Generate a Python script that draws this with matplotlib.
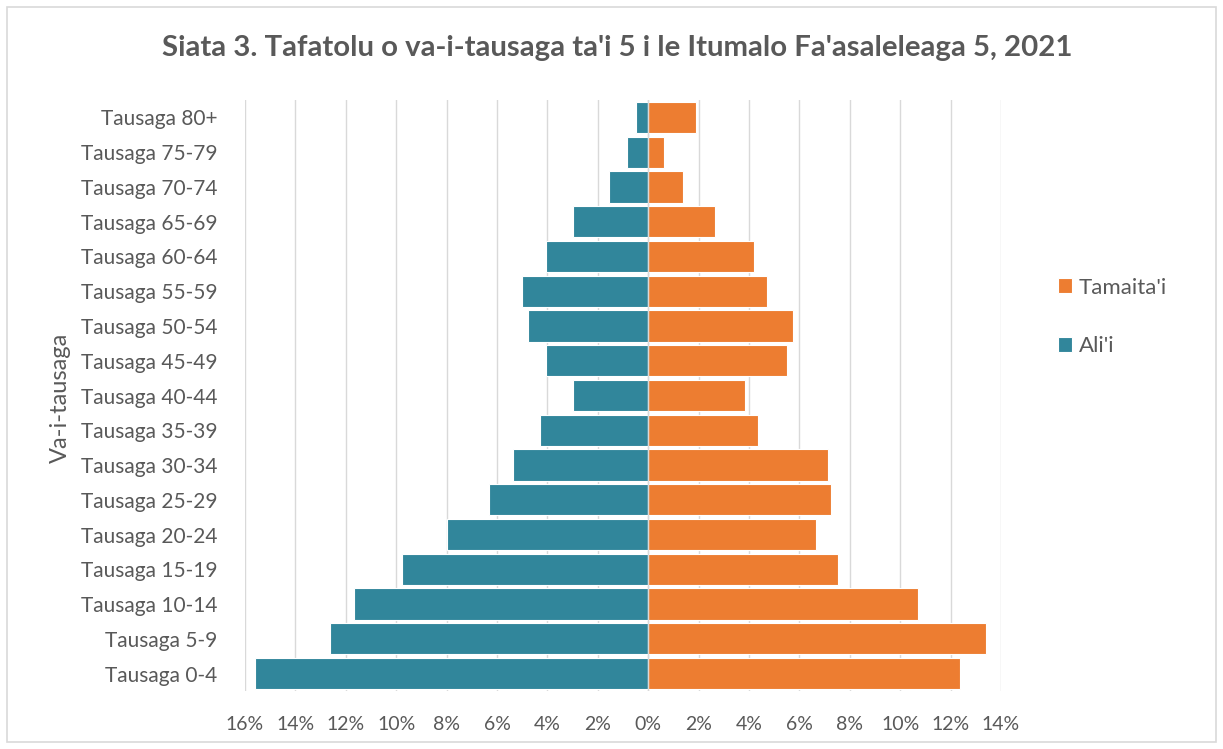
import matplotlib
matplotlib.use("Agg")
import matplotlib.pyplot as plt
import numpy as np
from matplotlib.patches import Rectangle

categories = ["Tausaga 0-4", "Tausaga 5-9", "Tausaga 10-14", "Tausaga 15-19",
              "Tausaga 20-24", "Tausaga 25-29", "Tausaga 30-34", "Tausaga 35-39",
              "Tausaga 40-44", "Tausaga 45-49", "Tausaga 50-54", "Tausaga 55-59",
              "Tausaga 60-64", "Tausaga 65-69", "Tausaga 70-74", "Tausaga 75-79",
              "Tausaga 80+"]
male = [15.6, 12.62, 11.67, 9.76, 7.98, 6.31, 5.36, 4.29, 2.98, 4.05, 4.76, 5.0,
        4.05, 2.98, 1.55, 0.83, 0.48]
female = [12.38, 13.41, 10.71, 7.54, 6.67, 7.26, 7.14, 4.37, 3.85, 5.52, 5.75,
          4.72, 4.2, 2.66, 1.39, 0.63, 1.9]
xticks = [-16, -14, -12, -10, -8, -6, -4, -2, 0, 2, 4, 6, 8, 10, 12, 14]

title = "Siata 3. Tafatolu o va-i-tausaga ta'i 5 i le Itumalo Fa'asaleleaga 5, 2021"
ylabel = "Va-i-tausaga"
female_label = "Tamaita'i"
male_label = "Ali'i"

TEAL = "#31869B"
ORANGE = "#ED7D31"
TXT = "#595959"
GRID = "#D9D9D9"

plt.rcParams['font.family'] = ['Lato', 'DejaVu Sans']

fig = plt.figure(figsize=(12.23, 7.49), dpi=100)
fig.patches.append(Rectangle((7/1223, 1 - 742/749), 1209/1223, 735/749,
                             transform=fig.transFigure, fill=False,
                             edgecolor="#D9D9D9", linewidth=1.2))
ax = fig.add_axes([245/1223, 1 - 691/749, (1001 - 245)/1223, (691 - 100)/749])

y = np.arange(len(categories))
ax.barh(y, [-m for m in male], height=0.9, color=TEAL, edgecolor="white",
        linewidth=0.8, zorder=2, label=male_label)
ax.barh(y, female, height=0.9, color=ORANGE, edgecolor="white",
        linewidth=0.8, zorder=2, label=female_label)
ax.axvline(0, color=GRID, linewidth=1.0, zorder=3)

ax.set_xlim(-16, 14)
ax.set_ylim(-0.5, len(categories) - 0.5)
ax.set_xticks(xticks)
ax.set_xticklabels([f"{abs(t)}%" for t in xticks])
ax.set_yticks(y)
ax.set_yticklabels(categories)
ax.grid(axis='x', color=GRID, linewidth=1.0, zorder=0)
ax.set_axisbelow(True)
for s in ax.spines.values():
    s.set_visible(False)
ax.tick_params(axis='both', length=0, colors=TXT)
ax.tick_params(axis='x', pad=18, labelsize=14)
ax.tick_params(axis='y', pad=20, labelsize=15)

fig.text(60/1223, 1 - 398/749, ylabel, rotation=90, ha='center', va='center',
         color=TXT, fontsize=17)

fig.text(617/1223, 1 - 48/749, title, ha='center', va='center',
         fontsize=21.2, fontweight='bold', color=TXT)

handles, labels = ax.get_legend_handles_labels()
leg = fig.legend(handles[::-1], labels[::-1], loc='center left',
                 bbox_to_anchor=(1058/1223, 1 - 317/749), frameon=False,
                 fontsize=16, labelcolor=TXT, handlelength=0.65, handleheight=0.65,
                 labelspacing=1.75, handletextpad=0.3, borderaxespad=0, borderpad=0)

fig.savefig("out.png", dpi=100)
